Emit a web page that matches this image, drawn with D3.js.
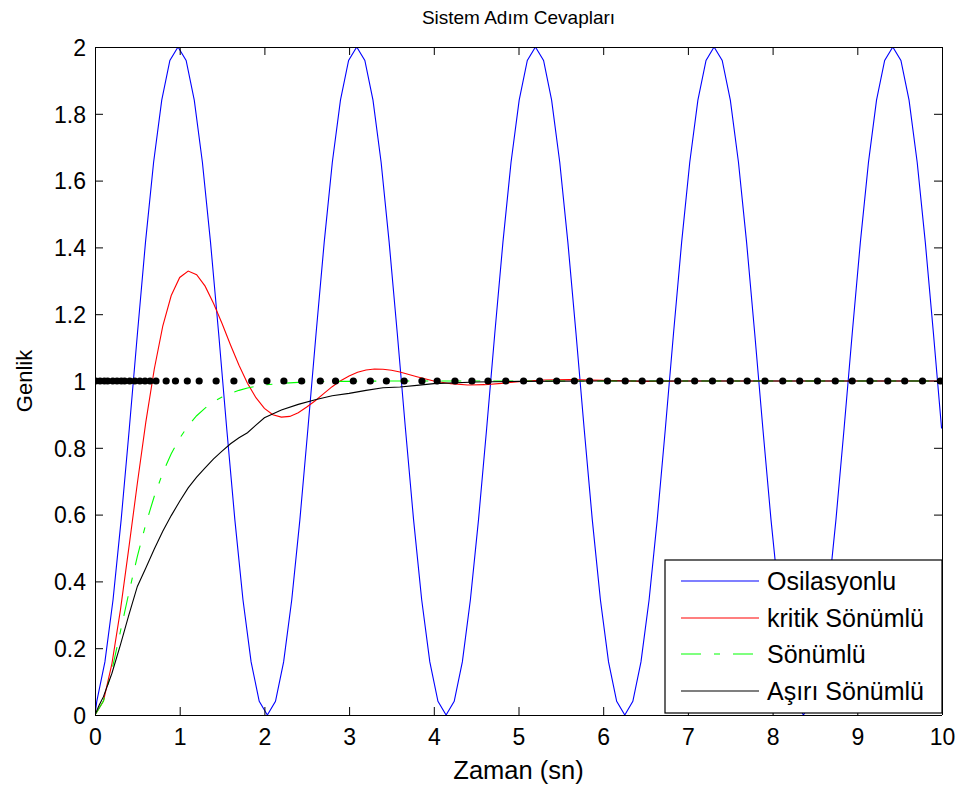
<!DOCTYPE html>
<html><head><meta charset="utf-8">
<script src="https://cdn.jsdelivr.net/npm/d3@7"></script>
<style>body{margin:0;background:#fff}svg{display:block}text{font-family:"Liberation Sans",Arial,Helvetica,sans-serif;fill:#000}</style>
</head><body><div id="chart"></div>
<script>
// ---------- data ----------
const titleText = "Sistem Adım Cevapları";
const xLabel = "Zaman (sn)";
const yLabel = "Genlik";
const xTicks = [0,1,2,3,4,5,6,7,8,9,10];
const yTicks = [0,0.2,0.4,0.6,0.8,1,1.2,1.4,1.6,1.8,2];
const seriesNames = ["Osilasyonlu","kritik Sönümlü","Sönümlü","Aşırı Sönümlü"];

// Osilasyonlu (blue)
const oscT = [0,0.021,0.117,0.213,0.309,0.405,0.501,0.596,0.692,0.788,0.884,0.980,1.076,1.172,1.268,1.364,1.460,1.555,1.651,1.747,1.843,1.939,2.035,2.131,2.227,2.323,2.419,2.514,2.610,2.706,2.802,2.898,2.994,3.090,3.186,3.282,3.378,3.473,3.569,3.665,3.761,3.857,3.953,4.049,4.145,4.241,4.337,4.432,4.528,4.624,4.720,4.816,4.912,5.008,5.104,5.200,5.296,5.391,5.487,5.583,5.679,5.775,5.871,5.967,6.063,6.159,6.255,6.350,6.446,6.542,6.638,6.734,6.830,6.926,7.022,7.118,7.214,7.309,7.405,7.501,7.597,7.693,7.789,7.885,7.981,8.077,8.173,8.268,8.364,8.460,8.556,8.652,8.748,8.844,8.940,9.036,9.132,9.227,9.323,9.419,9.515,9.611,9.707,9.803,9.899,9.995];
const oscV = [0,0.041,0.159,0.345,0.585,0.858,1.142,1.415,1.655,1.841,1.960,
2.000,1.960,1.841,1.655,1.415,1.142,0.858,0.585,0.345,0.159,0.041,0.000,0.041,0.159,0.345,0.585,0.858,1.142,1.415,1.655,1.841,1.960,
2.000,1.960,1.841,1.655,1.415,1.142,0.858,0.585,0.345,0.159,0.041,0.000,0.041,0.159,0.345,0.585,0.858,1.142,1.415,1.655,1.841,1.960,
2.000,1.960,1.841,1.655,1.415,1.142,0.858,0.585,0.345,0.159,0.041,0.000,0.041,0.159,0.345,0.585,0.858,1.142,1.415,1.655,1.841,1.960,
2.000,1.960,1.841,1.655,1.415,1.142,0.858,0.585,0.345,0.159,0.041,0.000,0.041,0.159,0.345,0.585,0.858,1.142,1.415,1.655,1.841,1.960,
2.000,1.960,1.841,1.655,1.415,1.142,0.858];

// kritik Sönümlü (red)
const redT = [0,0.1,0.2,0.3,0.4,0.5,0.6,0.7,0.8,0.9,1.0,1.1,1.2,1.3,1.4,1.5,1.6,1.7,1.8,1.9,2.0,2.1,2.2,2.3,2.4,2.5,2.6,2.7,2.8,2.9,3.0,3.1,3.2,3.3,3.4,3.5,3.6,3.8,4.0,4.2,4.4,4.6,4.8,5.0,5.3,5.6,6.0,6.5,7.0,8.0,9.0,10.0];
const redV = [0,0.042,0.154,0.314,0.501,0.694,0.877,1.036,1.164,1.256,1.310,1.329,1.318,1.284,1.232,1.172,1.108,1.047,0.993,0.950,0.918,0.899,0.892,0.894,0.905,0.922,0.941,0.962,0.983,1.001,1.015,1.026,1.033,1.036,1.035,1.032,1.027,1.013,1.000,0.992,0.988,0.989,0.993,0.998,1.003,1.004,1.002,0.999,1.000,1.000,1.000,1.000];

// Sönümlü (green)
const greenT = [0,0.1,0.2,0.3,0.4,0.5,0.6,0.7,0.8,0.9,1.0,1.1,1.2,1.3,1.4,1.5,1.6,1.7,1.8,1.9,2.0,2.2,2.4,2.6,2.8,3.0,3.5,4.0,5.0,6.0,7.0,8.0,9.0,10.0];
const greenV = [0,0.042,0.135,0.250,0.366,0.475,0.572,0.655,0.725,0.782,0.829,0.866,0.896,0.919,0.938,0.952,0.963,0.972,0.979,0.984,0.988,0.993,0.996,0.998,0.999,0.999,1.000,1.000,1.000,1.000,1.000,1.000,1.000,1.000];

// Aşırı Sönümlü (black)
const blackT = [0,0.05,0.1,0.2,0.3,0.4,0.5,0.6,0.7,0.8,0.9,1.0,1.1,1.2,1.3,1.4,1.5,1.6,1.7,1.8,1.9,2.0,2.2,2.4,2.6,2.8,3.0,3.2,3.4,3.6,3.8,4.0,4.5,5.0,6.0,7.0,8.0,9.0,10.0];
const blackV = [0,0.03,0.055,0.125,0.21,0.30,0.385,0.44,0.497,0.55,0.597,0.64,0.68,0.712,0.74,0.767,0.79,0.812,0.83,0.845,0.868,0.89,0.913,0.93,0.944,0.956,0.963,0.972,0.980,0.982,0.987,0.992,0.997,0.999,1.000,1.000,1.000,1.000,1.000];

// step input shown as dots
const dotT = [0.01,0.06,0.11,0.15,0.21,0.26,0.31,0.35,0.41,0.47,0.53,0.59,0.65,0.72,0.84,0.95,1.09,1.23,1.43,1.64,1.85,2.03,2.23,2.44,2.66,2.84,3.05,3.25,3.44,3.65,3.86,4.04,4.25,4.45,4.64,4.85,5.06,5.25,5.45,5.66,5.84,6.05,6.26,6.46,6.67,6.88,7.08,7.29,7.50,7.70,7.91,8.12,8.32,8.53,8.74,8.94,9.15,9.36,9.56,9.77,9.98];
const dotV = [1,1,1,1,1,1,1,1,1,1,1,1,1,1,1,1,1,1,1,1,1,1,1,1,1,1,1,1,1,1,1,1,1,1,1,1,1,1,1,1,1,1,1,1,1,1,1,1,1,1,1,1,1,1,1,1,1,1,1,1,1];

// ---------- drawing ----------
const W = 959, H = 790;
const L = 95, R = 942, T = 47, B = 715;
const svg = d3.select("#chart").append("svg").attr("width", W).attr("height", H);
const x = d3.scaleLinear().domain([0,10]).range([L,R]);
const y = d3.scaleLinear().domain([0,2]).range([B,T]);

svg.append("defs").append("clipPath").attr("id","clip")
  .append("rect").attr("x",L).attr("y",T).attr("width",R-L).attr("height",B-T);

const line = d3.line().x(d=>x(d[0])).y(d=>y(d[1]));
const zip = (a,b) => a.map((v,i)=>[v,b[i]]);
const series = [
  {name:seriesNames[0], data:zip(oscT,oscV), color:"#0000ff", dash:null},
  {name:seriesNames[1], data:zip(redT,redV), color:"#ff0000", dash:null},
  {name:seriesNames[2], data:zip(greenT,greenV), color:"#00ff00", dash:"20,13,6,13"},
  {name:seriesNames[3], data:zip(blackT,blackV), color:"#000000", dash:null}
];
const g = svg.append("g").attr("clip-path","url(#clip)");
series.forEach(s=>{
  g.append("path").attr("d", line(s.data)).attr("fill","none")
    .attr("stroke", s.color).attr("stroke-width",1.1)
    .attr("stroke-dasharray", s.dash);
});
g.selectAll("circle.dot").data(zip(dotT,dotV)).enter().append("circle")
  .attr("class","dot").attr("cx",d=>x(d[0])).attr("cy",d=>y(d[1])).attr("r",3.6).attr("fill","#000");

// axes (MATLAB style box with inward ticks on all sides)
const tickLen = 8;
const axB = d3.axisBottom(x).tickValues(xTicks).tickSize(-tickLen).tickFormat(d3.format("d"));
const axT = d3.axisTop(x).tickValues(xTicks).tickSize(-tickLen).tickFormat("");
const axL = d3.axisLeft(y).tickValues(yTicks).tickSize(-tickLen).tickFormat(d=>d3.format("~g")(d));
const axR = d3.axisRight(y).tickValues(yTicks).tickSize(-tickLen).tickFormat("");
function style(sel){
  sel.select(".domain").attr("stroke","#000").attr("stroke-width",1);
  sel.selectAll(".tick line").attr("stroke","#000").attr("stroke-width",1);
  sel.selectAll(".tick text").style("font-family",'"Liberation Sans",Arial,sans-serif').attr("fill","#000");
}
const gB = svg.append("g").attr("transform",`translate(0,${B})`).call(axB).call(style);
gB.selectAll(".tick text").attr("font-size",23).attr("dy",null).attr("y",30);
gB.select(".domain").attr("d",`M${L},0H${R}`);
const gT = svg.append("g").attr("transform",`translate(0,${T})`).call(axT).call(style);
gT.select(".domain").attr("d",`M${L},0H${R}`);
const gL = svg.append("g").attr("transform",`translate(${L},0)`).call(axL).call(style);
gL.selectAll(".tick text").attr("font-size",23).attr("x",-9).attr("dy","0.36em");
gL.select(".domain").attr("d",`M0,${T}V${B}`);
const gR = svg.append("g").attr("transform",`translate(${R},0)`).call(axR).call(style);
gR.select(".domain").attr("d",`M0,${T}V${B}`);
svg.selectAll(".domain").attr("shape-rendering","crispEdges");

// labels
svg.append("text").attr("x",(L+R)/2).attr("y",24).attr("text-anchor","middle").attr("font-size",19).text(titleText);
svg.append("text").attr("x",(L+R)/2).attr("y",779).attr("text-anchor","middle").attr("font-size",25.5).text(xLabel);
svg.append("text").attr("transform",`translate(32,${(T+B)/2}) rotate(-90)`).attr("text-anchor","middle").attr("font-size",22).text(yLabel);

// legend
const lg = svg.append("g");
lg.append("rect").attr("x",665).attr("y",560).attr("width",277).attr("height",153)
  .attr("fill","#fff").attr("stroke","#000").attr("stroke-width",1.2);
const rowY = [581,618,654,691];
series.forEach((s,i)=>{
  lg.append("line").attr("x1",681).attr("x2",759).attr("y1",rowY[i]).attr("y2",rowY[i])
    .attr("stroke",s.color).attr("stroke-width",1.2).attr("stroke-dasharray",s.dash);
  lg.append("text").attr("x",767).attr("y",rowY[i]+9).attr("font-size",25).text(s.name);
});
</script></body></html>
